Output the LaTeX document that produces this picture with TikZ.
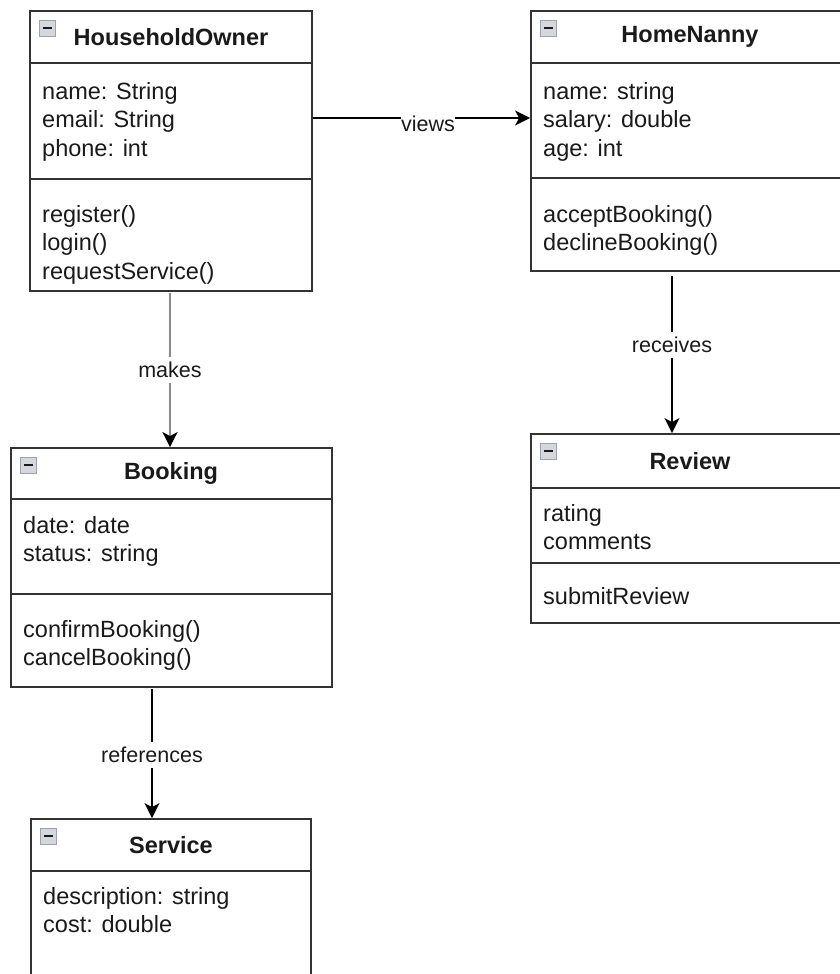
\documentclass[tikz,border=0pt]{standalone}
\usepackage{fontspec}
\setmainfont{Liberation Sans}
\usetikzlibrary{arrows.meta,calc}

\definecolor{boxline}{HTML}{333333}
\definecolor{ink}{HTML}{1A1A1A}
\definecolor{iconfill}{HTML}{D4D8DE}
\definecolor{iconedge}{HTML}{9CA3AD}
\definecolor{makesline}{HTML}{8A8A8A}

% member lists are anchored at the baseline of their last line
\tikzset{
  classbox/.style={draw=boxline, line width=1.8pt, fill=white, inner sep=0pt},
  divider/.style={draw=boxline, line width=1.8pt},
  classtitle/.style={font=\fontsize{23.5pt}{28.5pt}\selectfont\bfseries, text=ink, inner sep=0pt},
  members/.style={font=\fontsize{23.5pt}{28.5pt}\selectfont, text=ink, align=left, anchor=base west, inner sep=0pt},
  relabel/.style={font=\fontsize{21.5pt}{25pt}\selectfont, text=ink, fill=white, inner xsep=0.5pt, inner ysep=5pt},
  arr/.style={line width=1.5pt, draw=black, -{Stealth[length=15pt,width=15pt,inset=4pt,color=black]}},
  collapse/.pic={
    \draw[draw=iconedge, fill=iconfill, line width=1pt] (0,0) rectangle (16,16);
    \draw[draw=ink, line width=2.2pt] (3.5,8) -- (12.5,8);
  }
}

\begin{document}
\begin{tikzpicture}[x=1pt, y=-1pt]
\useasboundingbox (0,0) rectangle (840,974);
\clip (0,0) rectangle (840,974);
\fill[white] (0,0) rectangle (840,974);

% ---- HouseholdOwner ----
\node[classbox, minimum width=282pt, minimum height=280pt] (ho) at (171,151) {};
\draw[divider] (ho.west |- 0,63) -- (ho.east |- 0,63);
\draw[divider] (ho.west |- 0,179) -- (ho.east |- 0,179);
\pic at ([shift={(10,10)}]ho.north west) {collapse};
\node[classtitle] (hotitle) at (171,37) {HouseholdOwner};
\node[members] (hoattr) at (42,156) {name: String\\email: String\\phone: int};
\node[members] (hoops) at (42,279) {register()\\login()\\requestService()};

% ---- HomeNanny ----
\node[classbox, minimum width=318pt, minimum height=260pt] (hn) at (690,141) {};
\draw[divider] (hn.west |- 0,63) -- (hn.east |- 0,63);
\draw[divider] (hn.west |- 0,178) -- (hn.east |- 0,178);
\pic at ([shift={(10,10)}]hn.north west) {collapse};
\node[classtitle] (hntitle) at (690,37) {HomeNanny};
\node[members] (hnattr) at (543,156) {name: string\\salary: double\\age: int};
\node[members] (hnops) at (543,250.5) {acceptBooking()\\declineBooking()};

% ---- Booking ----
\node[classbox, minimum width=321pt, minimum height=239pt] (bk) at (171.5,567.5) {};
\draw[divider] (bk.west |- 0,499) -- (bk.east |- 0,499);
\draw[divider] (bk.west |- 0,594) -- (bk.east |- 0,594);
\pic at ([shift={(10,10)}]bk.north west) {collapse};
\node[classtitle] (bktitle) at (171,473.5) {Booking};
\node[members] (bkattr) at (23,561.5) {date: date\\status: string};
\node[members] (bkops) at (23,665.5) {confirmBooking()\\cancelBooking()};

% ---- Review ----
\node[classbox, minimum width=319pt, minimum height=189pt] (rv) at (690.5,528.5) {};
\draw[divider] (rv.west |- 0,488) -- (rv.east |- 0,488);
\draw[divider] (rv.west |- 0,563) -- (rv.east |- 0,563);
\pic at ([shift={(10,10)}]rv.north west) {collapse};
\node[classtitle] (rvtitle) at (690,461) {Review};
\node[members] (rvattr) at (543,549.5) {rating\\comments};
\node[members] (rvops) at (543,604) {submitReview};

% ---- Service ----
\node[classbox, minimum width=280pt, minimum height=181pt] (sv) at (171,909.5) {};
\draw[divider] (sv.west |- 0,871) -- (sv.east |- 0,871);
\pic at ([shift={(10,10)}]sv.north west) {collapse};
\node[classtitle] (svtitle) at (171,845) {Service};
\node[members] (svattr) at (43,932.5) {description: string\\cost: double};

% ---- relations ----
\coordinate (viewsy) at (0,118);
\coordinate (makesx) at (170,0);
\coordinate (recvx) at (672,0);
\coordinate (refx) at (152,0);

\draw[arr] (ho.east |- viewsy) -- (hn.west |- viewsy);
\node[relabel] (lviews) at (428,124) {views};

\draw[arr, draw=makesline, line width=2.6pt] ([yshift=-1pt]ho.south -| makesx) -- (bk.north -| makesx);
\node[relabel] (lmakes) at (170,370) {makes};

\draw[arr] ([yshift=-4pt]hn.south -| recvx) -- (rv.north -| recvx);
\node[relabel] (lrecv) at (672,345) {receives};

\draw[arr] ([yshift=-1pt]bk.south -| refx) -- (sv.north -| refx);
\node[relabel] (lref) at (152,755) {references};
\end{tikzpicture}
\end{document}
